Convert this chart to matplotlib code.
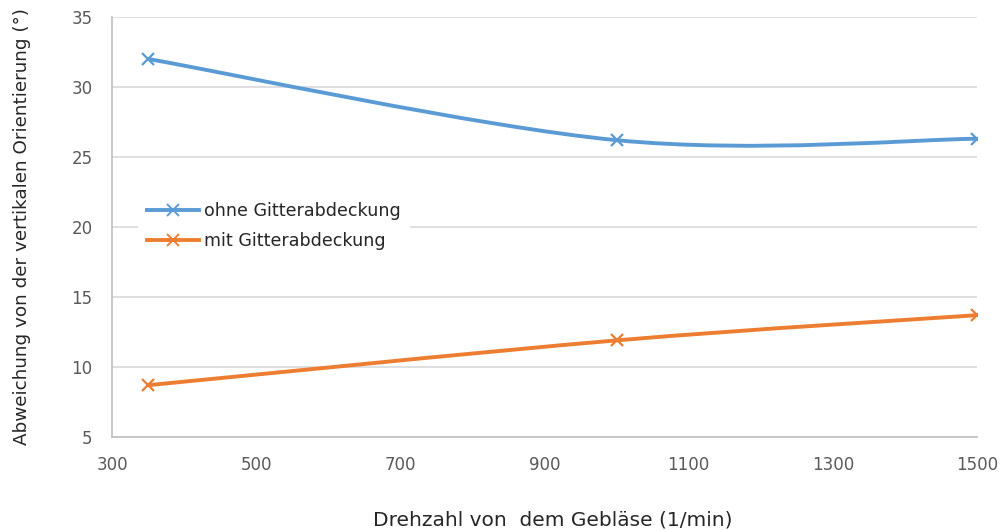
import numpy as np
import matplotlib.pyplot as plt
from matplotlib.path import Path
from matplotlib.patches import PathPatch
from matplotlib.lines import Line2D

# data
drehzahl = [350, 1000, 1500]
ohne_gitter = [32.0, 26.2, 26.3]
mit_gitter = [8.7, 11.9, 13.7]
x_ticks = [300, 500, 700, 900, 1100, 1300, 1500]
y_ticks = [5, 10, 15, 20, 25, 30, 35]

BLUE = '#5B9BD5'
ORANGE = '#ED7D31'
GRAY = '#595959'

plt.rcParams['font.family'] = ['DejaVu Sans']


def smooth_path(xs, ys):
    """Excel-like smoothed line as cubic bezier path"""
    pts = np.column_stack([xs, ys]).astype(float)
    ext = np.vstack([pts[0], pts, pts[-1]])
    verts = [pts[0]]
    codes = [Path.MOVETO]
    for i in range(len(pts) - 1):
        p0, p1, p2, p3 = ext[i], ext[i + 1], ext[i + 2], ext[i + 3]
        c1 = p1 + (p2 - p0) / 6
        c2 = p2 - (p3 - p1) / 6
        verts += [c1, c2, p2]
        codes += [Path.CURVE4] * 3
    return Path(verts, codes)


fig = plt.figure(figsize=(10.03, 5.3), dpi=100)
ax = fig.add_axes([0.1117, 0.1755, 0.8624, 0.7925])

for ys, color in [(ohne_gitter, BLUE), (mit_gitter, ORANGE)]:
    patch = PathPatch(smooth_path(drehzahl, ys), facecolor='none',
                      edgecolor=color, lw=2.8, capstyle='round', zorder=3)
    ax.add_patch(patch)
    ax.plot(drehzahl, ys, ls='none', marker='x', ms=9, mew=1.6,
            color=color, zorder=4)

ax.set_xlim(300, 1500)
ax.set_ylim(5, 35)
ax.set_xticks(x_ticks)
ax.set_yticks(y_ticks)
ax.grid(axis='y', color='#D9D9D9', lw=1.2)
ax.set_axisbelow(True)
for side in ['top', 'right']:
    ax.spines[side].set_visible(False)
for side in ['left', 'bottom']:
    ax.spines[side].set_color('#BFBFBF')
    ax.spines[side].set_linewidth(1.2)
ax.tick_params(length=0, labelsize=12, labelcolor=GRAY, pad=14)

ax.set_xlabel('Drehzahl von  dem Gebläse (1/min)', fontsize=14.5,
              color='#262626')
ax.xaxis.set_label_coords(0.509, -0.175)
ax.set_ylabel('Abweichung von der vertikalen Orientierung (°)', fontsize=13.2,
              color='#262626', labelpad=29)

handles = [
    Line2D([], [], color=BLUE, lw=2.8, marker='x', ms=8, mew=1.4),
    Line2D([], [], color=ORANGE, lw=2.8, marker='x', ms=8, mew=1.4),
]
leg = ax.legend(handles, ['ohne Gitterabdeckung', 'mit Gitterabdeckung'],
                loc='upper left', bbox_to_anchor=(0.03, 0.58), borderaxespad=0,
                fontsize=12.6, frameon=True, fancybox=False, framealpha=1,
                edgecolor='none', handlelength=3, handletextpad=0.3,
                labelspacing=0.7, borderpad=0.5)
for t in leg.get_texts():
    t.set_color('#262626')

fig.savefig('out.png', dpi=100)
